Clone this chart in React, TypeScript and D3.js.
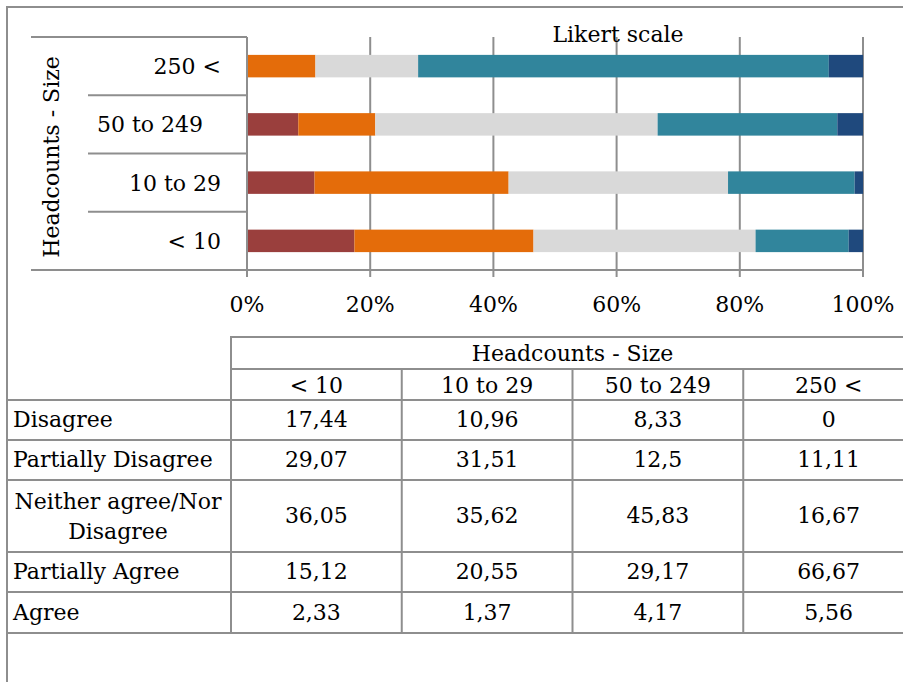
import React from "react";
import * as d3 from "d3";

const sizes = ["< 10", "10 to 29", "50 to 249", "250 <"];
const likert = ["Disagree", "Partially Disagree", "Neither agree/Nor Disagree", "Partially Agree", "Agree"];
const disagree = [17.44, 10.96, 8.33, 0];
const partiallyDisagree = [29.07, 31.51, 12.5, 11.11];
const neither = [36.05, 35.62, 45.83, 16.67];
const partiallyAgree = [15.12, 20.55, 29.17, 66.67];
const agree = [2.33, 1.37, 4.17, 5.56];
const xTicks = [0, 20, 40, 60, 80, 100];
const colors = ["#9A3F3D", "#E46C0A", "#D9D9D9", "#31859C", "#1F497D"];

const seriesValues = [disagree, partiallyDisagree, neither, partiallyAgree, agree];
const FONT = "'DejaVu Serif', serif";
const LINE = "#8E8E8E";

export default function App() {
  const W = 903, H = 682;
  const x = d3.scaleLinear().domain([0, 100]).range([247, 863]);
  const chartOrder = [...sizes].reverse();
  const y = d3.scaleBand().domain(chartOrder).range([37, 270]).paddingInner(0.614).paddingOuter(0.307);
  const step = y.step();

  const rows = sizes.map((s, i) => {
    const r: any = { size: s };
    likert.forEach((k, j) => (r[k] = seriesValues[j][i]));
    return r;
  });
  const stack = d3.stack<any>().keys(likert);
  const stacked = stack(rows);

  // table layout
  const colScale = d3.scaleBand().domain(sizes).range([231, 914]);
  const rowEdges = [400, 440, 480, 552, 592, 633];
  const fmt = (v: number) => String(v).replace(".", ",");

  const sepYs = d3.range(5).map((i) => 37 + i * step);

  return (
    <svg width={W} height={H} style={{ position: "absolute", left: 0, top: 0 }} fontFamily={FONT} fontSize={22}>
      <rect x={0} y={0} width={W} height={H} fill="#fff" />
      {/* outer border */}
      <line x1={7} x2={W} y1={7} y2={7} stroke={LINE} strokeWidth={2} />
      <line x1={7} x2={7} y1={6} y2={H} stroke={LINE} strokeWidth={2} />

      {/* gridlines */}
      {xTicks.slice(1).map((t) => (
        <line key={t} x1={x(t)} x2={x(t)} y1={37} y2={270} stroke={LINE} strokeWidth={2} />
      ))}

      {/* bars */}
      {stacked.map((layer, li) => (
        <g key={layer.key} fill={colors[li]}>
          {layer.map((d: any) => (
            <rect
              key={d.data.size}
              x={x(d[0])}
              y={y(d.data.size)!}
              width={Math.max(0, x(d[1]) - x(d[0]))}
              height={y.bandwidth()}
            />
          ))}
        </g>
      ))}

      {/* axes */}
      <line x1={x(0)} x2={x(0)} y1={37} y2={277} stroke={LINE} strokeWidth={2} />
      <line x1={x(0)} x2={x(100)} y1={270} y2={270} stroke={LINE} strokeWidth={2} />
      {xTicks.map((t) => (
        <g key={t}>
          <line x1={x(t)} x2={x(t)} y1={270} y2={277} stroke={LINE} strokeWidth={2} />
          <text x={x(t)} y={312} textAnchor="middle" fill="#000">{t}%</text>
        </g>
      ))}

      {/* category separators */}
      {sepYs.map((sy, i) => (
        <line key={i} x1={i === 0 || i === 4 ? 31 : 88} x2={247} y1={sy} y2={sy} stroke={LINE} strokeWidth={2} />
      ))}
      {chartOrder.map((c) => {
        const long = c.length > 8;
        return (
          <text key={c} x={long ? 97 : 221} y={y(c)! + y.bandwidth() / 2 + 8} textAnchor={long ? "start" : "end"} fill="#000">{c}</text>
        );
      })}
      <text transform="translate(59,157) rotate(-90)" textAnchor="middle" fill="#000">Headcounts - Size</text>
      <text x={618} y={42} textAnchor="middle" fill="#000">Likert scale</text>

      {/* table lines */}
      <line x1={231} x2={W} y1={337} y2={337} stroke={LINE} strokeWidth={2} />
      <line x1={231} x2={W} y1={369} y2={369} stroke={LINE} strokeWidth={2} />
      {rowEdges.map((ry) => (
        <line key={ry} x1={7} x2={W} y1={ry} y2={ry} stroke={LINE} strokeWidth={2} />
      ))}
      <line x1={231} x2={231} y1={336} y2={634} stroke={LINE} strokeWidth={2} />
      {sizes.slice(1).map((s) => (
        <line key={s} x1={colScale(s)!} x2={colScale(s)!} y1={368} y2={634} stroke={LINE} strokeWidth={2} />
      ))}

      {/* table text */}
      <text x={572.5} y={361} textAnchor="middle" fill="#000">Headcounts - Size</text>
      {sizes.map((s) => (
        <text key={s} x={colScale(s)! + colScale.bandwidth() / 2} y={393} textAnchor="middle" fill="#000">{s}</text>
      ))}
      {likert.map((k, ri) => {
        const top = rowEdges[ri], bot = rowEdges[ri + 1];
        const cy = (top + bot) / 2;
        return (
          <g key={k}>
            {ri === 2 ? (
              <>
                <text x={118} y={509} textAnchor="middle" fill="#000">Neither agree/Nor</text>
                <text x={118} y={539} textAnchor="middle" fill="#000">Disagree</text>
              </>
            ) : (
              <text x={13} y={cy + 7} fill="#000">{k}</text>
            )}
            {sizes.map((s, ci) => (
              <text key={s} x={colScale(s)! + colScale.bandwidth() / 2} y={cy + 7} textAnchor="middle" fill="#000">
                {fmt(seriesValues[ri][ci])}
              </text>
            ))}
          </g>
        );
      })}
    </svg>
  );
}
